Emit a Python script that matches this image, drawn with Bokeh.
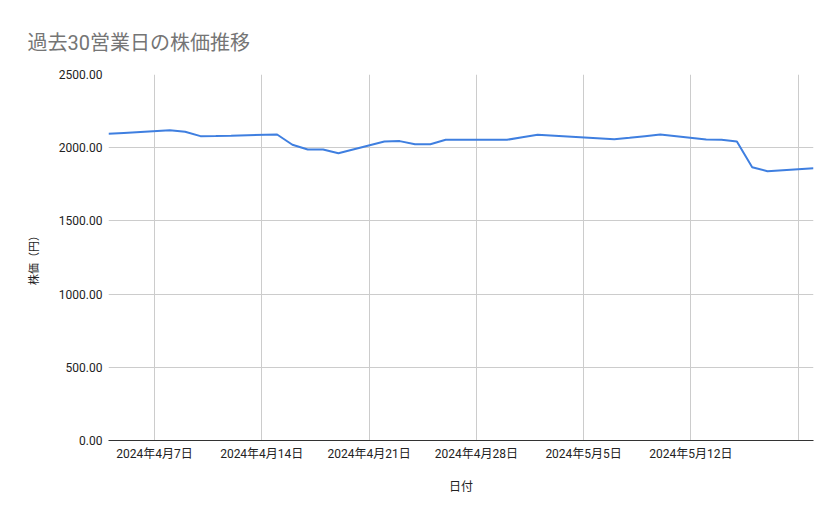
import pandas as pd
from bokeh.plotting import figure
from bokeh.models import Range1d, FixedTicker, NumeralTickFormatter
from bokeh.embed import file_html
from bokeh.resources import INLINE

# ---- data ----
dates = ["2024-04-04", "2024-04-05", "2024-04-08", "2024-04-09", "2024-04-10",
         "2024-04-11", "2024-04-12", "2024-04-15", "2024-04-16", "2024-04-17",
         "2024-04-18", "2024-04-19", "2024-04-22", "2024-04-23", "2024-04-24",
         "2024-04-25", "2024-04-26", "2024-04-30", "2024-05-01", "2024-05-02",
         "2024-05-07", "2024-05-08", "2024-05-09", "2024-05-10", "2024-05-13",
         "2024-05-14", "2024-05-15", "2024-05-16", "2024-05-17", "2024-05-20"]
prices = [2095, 2101, 2120, 2109, 2079, 2080, 2082, 2090, 2020, 1988,
          1988, 1962, 2042, 2045, 2024, 2024, 2054, 2054, 2071, 2088,
          2058, 2068, 2079, 2090, 2056, 2054, 2042, 1867, 1839, 1860]

x_tick_dates = ["2024-04-07", "2024-04-14", "2024-04-21", "2024-04-28",
                "2024-05-05", "2024-05-12", "2024-05-19"]
x_tick_labels = ["2024年4月7日", "2024年4月14日", "2024年4月21日", "2024年4月28日",
                 "2024年5月5日", "2024年5月12日", ""]
y_ticks = [0, 500, 1000, 1500, 2000, 2500]

title_text = "過去30営業日の株価推移"
x_title = "日付"
y_title = "株価（円）"

FONT = "Roboto, 'Noto Sans CJK JP', sans-serif"

x = pd.to_datetime(dates)
tick_ms = [int(pd.Timestamp(d).timestamp() * 1000) for d in x_tick_dates]

p = figure(width=823, height=503, x_axis_type="datetime",
           output_backend="svg", toolbar_location=None,
           x_range=Range1d(x[0], x[-1]), y_range=Range1d(0, 2500),
           min_border_left=108, min_border_right=10,
           min_border_top=74, min_border_bottom=63)

p.line(x, prices, line_color="#3f7fe0", line_width=2)

p.title.text = title_text
p.title.text_font = FONT
p.title.text_font_size = "20px"
p.title.text_font_style = "normal"
p.title.text_color = "#757575"
p.title.text_line_height = 0.8
p.title.align = "left"
p.title.vertical_align = "top"
p.title.offset = -81
p.title.standoff = 36

p.outline_line_color = None
p.background_fill_color = "white"
p.border_fill_color = "white"

# x axis
xa = p.xaxis[0]
xa.ticker = FixedTicker(ticks=tick_ms)
xa.major_label_overrides = {t: lab for t, lab in zip(tick_ms, x_tick_labels)}
xa.major_tick_line_color = None
xa.major_tick_out = 0
xa.major_tick_in = 0
xa.minor_tick_line_color = None
xa.axis_line_color = "#333333"
xa.major_label_standoff = 6
xa.major_label_text_font = FONT
xa.major_label_text_font_size = "12px"
xa.major_label_text_color = "#222222"
xa.axis_label = x_title
xa.axis_label_text_font = FONT
xa.axis_label_text_font_size = "12px"
xa.axis_label_text_font_style = "normal"
xa.axis_label_text_color = "#222222"
xa.axis_label_standoff = 16

# y axis
ya = p.yaxis[0]
ya.ticker = FixedTicker(ticks=y_ticks)
ya.formatter = NumeralTickFormatter(format="0.00")
ya.major_tick_line_color = None
ya.major_tick_out = 0
ya.major_tick_in = 0
ya.minor_tick_line_color = None
ya.axis_line_color = None
ya.major_label_standoff = 6
ya.major_label_text_font = FONT
ya.major_label_text_font_size = "12px"
ya.major_label_text_color = "#222222"
ya.axis_label = y_title
ya.axis_label_text_font = FONT
ya.axis_label_text_font_size = "11px"
ya.axis_label_text_font_style = "normal"
ya.axis_label_text_color = "#222222"
ya.axis_label_standoff = 15

p.xgrid.grid_line_color = "#cccccc"
p.ygrid.grid_line_color = "#cccccc"
p.xgrid.grid_line_width = 1
p.ygrid.grid_line_width = 1

open("out.html", "w").write(file_html(p, INLINE))
